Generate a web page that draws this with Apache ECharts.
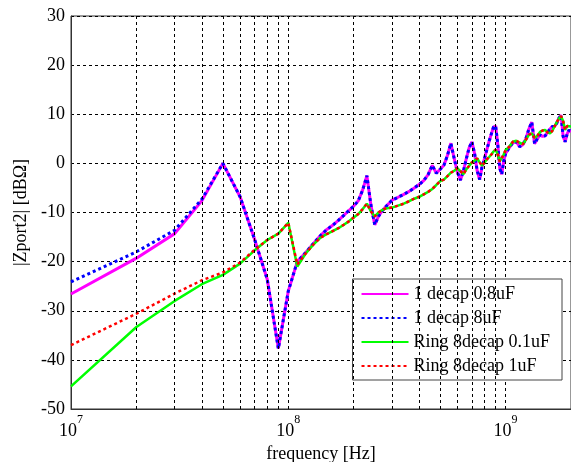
<!DOCTYPE html>
<html>
<head>
<meta charset="utf-8">
<script src="https://cdn.jsdelivr.net/npm/echarts@6/dist/echarts.min.js"></script>
<style>
  html, body { margin: 0; padding: 0; background: #fff; }
  #chart { width: 571px; height: 462px; }
</style>
</head>
<body>
<div id="chart"></div>
<script>
// Port-2 impedance magnitude vs frequency for four decoupling configurations.
// Frequencies in MHz, impedance in dB-ohm.
const freqMHz = [
  10, 20, 30, 40, 50, 60, 70, 80, 90, 100,
  110, 120, 130, 140, 150, 160, 170, 180, 190, 200,
  210, 220, 230, 240, 250, 260, 270, 280, 290, 300,
  320, 340, 360, 380, 400, 420, 440, 460, 480, 500,
  520, 540, 560, 580, 600, 620, 640, 660, 680, 700,
  720, 740, 760, 780, 800, 820, 840, 860, 880, 900,
  920, 940, 960, 980, 1000, 1040, 1080, 1120, 1160, 1200,
  1240, 1280, 1320, 1360, 1400, 1440, 1480, 1520, 1560, 1600,
  1640, 1680, 1720, 1760, 1800, 1840, 1880, 1920, 1960, 2000
];

const decap08uF = [
  -26.6, -19.3, -14.3, -7.6, 0.0, -6.8, -15.5, -23.6, -37.7, -26.0,
  -20.0, -18.2, -16.4, -14.8, -13.5, -12.6, -11.6, -10.6, -9.6, -8.7,
  -7.6, -5.4, -2.5, -8.5, -12.5, -10.8, -9.7, -8.9, -8.2, -7.5,
  -6.9, -6.3, -5.7, -5.0, -4.3, -3.5, -2.3, -0.4, -2.0, -1.2,
  -0.4, 1.6, 4.1, 1.0, -1.8, -3.4, -1.5, 1.0, 3.2, 4.4,
  2.0, -1.5, -3.3, -0.6, 1.0, 2.8, 4.5, 6.0, 7.4, 7.6,
  4.0, -1.0, -2.2, 0.5, 2.0, 3.2, 4.2, 4.4, 3.4, 3.8,
  5.0, 7.0, 8.4, 4.0, 5.0, 5.8, 5.5, 5.6, 6.3, 7.0,
  7.5, 7.5, 8.2, 9.2, 9.8, 5.5, 4.4, 6.0, 6.8, 6.4
];

const decap8uF = [
  -24.1, -18.0, -13.6, -7.3, 0.0, -6.8, -15.5, -23.6, -37.7, -26.0,
  -20.0, -18.2, -16.4, -14.8, -13.5, -12.6, -11.6, -10.6, -9.6, -8.7,
  -7.6, -5.4, -2.5, -8.5, -12.5, -10.8, -9.7, -8.9, -8.2, -7.5,
  -6.9, -6.3, -5.7, -5.0, -4.3, -3.5, -2.3, -0.4, -2.0, -1.2,
  -0.4, 1.6, 4.1, 1.0, -1.8, -3.4, -1.5, 1.0, 3.2, 4.4,
  2.0, -1.5, -3.3, -0.6, 1.0, 2.8, 4.5, 6.0, 7.4, 7.6,
  4.0, -1.0, -2.2, 0.5, 2.0, 3.2, 4.2, 4.4, 3.4, 3.8,
  5.0, 7.0, 8.4, 4.0, 5.0, 5.8, 5.5, 5.6, 6.3, 7.0,
  7.5, 7.5, 8.2, 9.2, 9.8, 5.5, 4.4, 6.0, 6.8, 6.4
];

const ring01uF = [
  -45.4, -33.3, -28.0, -24.6, -22.7, -20.4, -17.7, -15.6, -14.3, -12.1,
  -21.0, -18.4, -16.6, -15.2, -14.4, -13.8, -13.2, -12.5, -11.8, -11.0,
  -10.3, -9.3, -8.2, -9.8, -10.8, -10.0, -9.5, -9.2, -9.1, -9.0,
  -8.6, -8.2, -7.7, -7.2, -6.8, -6.3, -5.8, -5.2, -4.4, -3.6,
  -3.3, -2.6, -1.9, -1.5, -1.0, -1.6, -2.2, -1.2, -0.5, 0.2,
  0.6, 1.0, 0.2, -0.5, 0.2, 0.8, 1.3, 1.8, 2.4, 2.8,
  1.8, 0.4, 0.5, 1.8, 2.7, 3.4, 4.4, 4.6, 4.2, 3.9,
  4.8, 5.8, 6.1, 5.2, 5.6, 6.4, 6.7, 6.8, 6.3, 6.1,
  6.6, 7.5, 8.4, 9.1, 9.6, 8.6, 6.8, 7.6, 7.9, 7.5
];

const ring1uF = [
  -37.0, -30.6, -26.5, -23.8, -22.2, -20.2, -17.6, -15.6, -14.3, -12.1,
  -20.6, -18.4, -16.6, -15.2, -14.4, -13.8, -13.2, -12.5, -11.8, -11.0,
  -10.3, -9.3, -8.2, -9.8, -10.8, -10.0, -9.5, -9.2, -9.1, -9.0,
  -8.6, -8.2, -7.7, -7.2, -6.8, -6.3, -5.8, -5.2, -4.4, -3.6,
  -3.3, -2.6, -1.9, -1.5, -1.0, -1.6, -2.2, -1.2, -0.5, 0.2,
  0.6, 1.0, 0.2, -0.5, 0.2, 0.8, 1.3, 1.8, 2.4, 2.8,
  1.8, 0.4, 0.5, 1.8, 2.7, 3.4, 4.4, 4.6, 4.2, 3.9,
  4.8, 5.8, 6.1, 5.2, 5.6, 6.4, 6.7, 6.8, 6.3, 6.1,
  6.6, 7.5, 8.4, 9.1, 9.6, 8.6, 6.8, 7.6, 7.9, 7.5
];

const seriesNames = ['1 decap 0.8uF', '1 decap 8uF', 'Ring 8decap 0.1uF', 'Ring 8decap 1uF'];
const yTicks = { min: -50, max: 30, step: 10 };
const xRangeHz = { min: 1e7, max: 2e9 };

const FONT = '"Liberation Serif", "Times New Roman", serif';

function pairs(values) {
  return freqMHz.map((f, i) => [f * 1e6, values[i]]);
}

// Minor log grid lines at 2..9 x each decade.
const gridFreqs = [];
for (let d = 1e7; d < xRangeHz.max; d *= 10) {
  for (let m = 2; m <= 9; m++) {
    const f = m * d;
    if (f > xRangeHz.min && f < xRangeHz.max) gridFreqs.push(f);
  }
}

const chart = echarts.init(document.getElementById('chart'), null, { renderer: 'canvas' });

const dashed = { color: '#000', width: 1, type: [3, 3] };

chart.setOption({
  animation: false,
  backgroundColor: '#fff',
  grid: {
    left: 71, right: 0, top: 16, bottom: 53,
    outerBoundsMode: 'none', containLabel: false,
    show: true, borderColor: '#333', borderWidth: 1, backgroundColor: 'transparent'
  },
  legend: {
    orient: 'vertical',
    right: 9, top: 279,
    padding: [6, 12, 5, 8],
    itemWidth: 47, itemHeight: 14, itemGap: 6,
    backgroundColor: '#fff',
    borderColor: '#444', borderWidth: 1, borderRadius: 0,
    itemStyle: { opacity: 0 },
    textStyle: { fontFamily: FONT, fontSize: 18, color: '#000' },
    data: seriesNames
  },
  xAxis: {
    type: 'log', logBase: 10,
    min: xRangeHz.min, max: xRangeHz.max,
    name: 'frequency [Hz]', nameLocation: 'middle', nameGap: 36,
    nameTextStyle: { fontFamily: FONT, fontSize: 18, color: '#000' },
    axisLine: { show: true, onZero: false, lineStyle: { color: '#333', width: 1 } },
    axisTick: { show: false },
    splitLine: { show: true, lineStyle: dashed },
    axisLabel: {
      margin: 5, showMaxLabel: false,
      formatter: function (v) {
        const e = Math.round(Math.log10(v));
        if (Math.abs(v - Math.pow(10, e)) / v > 1e-6) return '';
        return '{b|10}{s|' + e + '}';
      },
      rich: {
        b: { fontFamily: FONT, fontSize: 18, color: '#000', padding: [8, 0, 0, 0], verticalAlign: 'bottom' },
        s: { fontFamily: FONT, fontSize: 12, color: '#000', verticalAlign: 'top' }
      }
    }
  },
  yAxis: {
    type: 'value',
    min: yTicks.min, max: yTicks.max, interval: yTicks.step,
    name: '|Zport2| [dB\u03A9]', nameLocation: 'middle', nameGap: 31, nameRotate: 90,
    nameTextStyle: { fontFamily: FONT, fontSize: 18, color: '#000' },
    axisLine: { show: true, onZero: false, lineStyle: { color: '#333', width: 1 } },
    axisTick: { show: false },
    splitLine: { show: true, lineStyle: dashed },
    axisLabel: { fontFamily: FONT, fontSize: 18, color: '#000', margin: 6 }
  },
  series: [
    {
      name: 'grid', type: 'line', data: [], silent: true,
      markLine: {
        silent: true, symbol: 'none', animation: false,
        label: { show: false },
        lineStyle: dashed,
        data: gridFreqs.map(f => ({ xAxis: f }))
      }
    },
    {
      name: seriesNames[0], type: 'line', data: pairs(decap08uF),
      showSymbol: false, symbol: 'none', color: '#ff00ff',
      lineStyle: { color: '#ff00ff', width: 3 }
    },
    {
      name: seriesNames[1], type: 'line', data: pairs(decap8uF),
      showSymbol: false, symbol: 'none', color: '#0000ff',
      lineStyle: { color: '#0000ff', width: 3, type: [3, 3] }
    },
    {
      name: seriesNames[2], type: 'line', data: pairs(ring01uF),
      showSymbol: false, symbol: 'none', color: '#00ff00',
      lineStyle: { color: '#00ff00', width: 2.5 }
    },
    {
      name: seriesNames[3], type: 'line', data: pairs(ring1uF),
      showSymbol: false, symbol: 'none', color: '#ff0000',
      lineStyle: { color: '#ff0000', width: 2.5, type: [3, 3] }
    }
  ]
});
</script>
</body>
</html>
